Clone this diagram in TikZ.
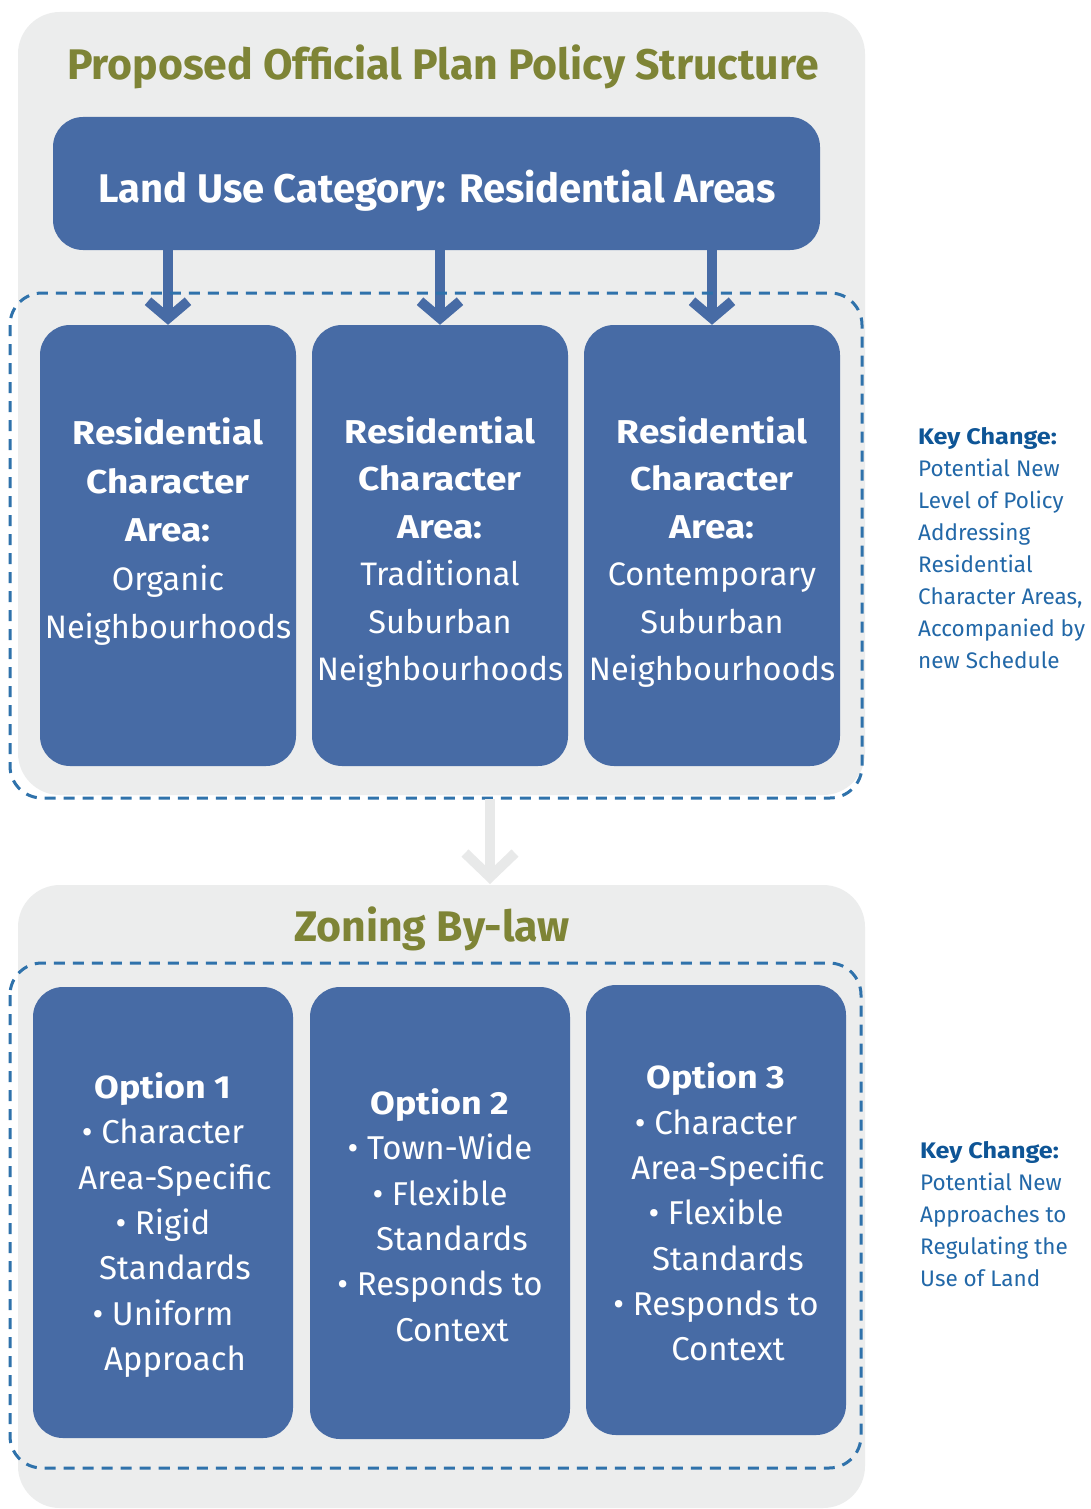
\documentclass[tikz,border=0pt]{standalone}
\usepackage{fontspec}
\setmainfont{Fira Sans}
\newfontfamily\boxbf{Fira Sans}[FakeStretch=1.12]
\usetikzlibrary{arrows.meta}
\definecolor{boxblue}{HTML}{476BA5}
\definecolor{panelgrey}{HTML}{ECEDED}
\definecolor{olive}{HTML}{7E8436}
\definecolor{dashblue}{HTML}{2F72AB}
\definecolor{keytext}{HTML}{2268A8}
\definecolor{keybold}{HTML}{0E5596}
\definecolor{greyarrow}{HTML}{E8E9E9}
\newcommand\fsz[2]{\fontsize{#1}{#2}\selectfont}
\newcommand\hb[1]{{\boxbf\bfseries\fontsize{33}{40}\selectfont #1}}
\newcommand\ob[1]{{\boxbf\bfseries\fontsize{32}{40}\selectfont #1}}
\begin{document}
\begin{tikzpicture}[x=1pt,y=-1pt,
  panel/.style={fill=panelgrey, draw=none, rounded corners=42pt},
  dashbox/.style={draw=dashblue, line width=3pt, dash pattern=on 11pt off 8pt, rounded corners=32pt},
  bluebox/.style={fill=boxblue, draw=none, rounded corners=30pt, inner sep=0pt},
  boxtext/.style={text=white, align=center, inner sep=0pt},
  title/.style={text=olive, font=\fsz{42.8}{50}\bfseries, anchor=base},
  keynote/.style={text=keytext, align=left, anchor=west, inner sep=0pt, font=\fsz{22.5}{32}},
  bluearrow/.style={draw=boxblue, line width=10pt, -{Straight Barb[length=17pt,width=40pt,line width=10pt]}},
  greyarr/.style={draw=greyarrow, line width=10pt, -{Straight Barb[length=24pt,width=50pt,line width=10pt]}}
]
\useasboundingbox (0,0) rectangle (1090,1509);
\fill[white] (0,0) rectangle (1090,1509);

% panels
\path[panel] (18,12) rectangle (865,795);
\path[panel] (18,885) rectangle (865,1508);

% titles
\node[title] (t1) at (443,80) {Proposed Official Plan Policy Structure};
\node[title] (t2) at (432,941) {Zoning By-law};

% land use box
\node[bluebox, minimum width=767pt, minimum height=133pt] (lu) at (436.5,183.5) {};
\node[text=white, font=\fsz{40}{46}\bfseries, anchor=base] (lut) at (437,202) {Land Use Category: Residential Areas};

% residential character boxes
\node[bluebox, minimum width=256pt, minimum height=441pt] (r1) at (168,545.5) {};
\node[bluebox, minimum width=256pt, minimum height=441pt] (r2) at (440,545.5) {};
\node[bluebox, minimum width=256pt, minimum height=441pt] (r3) at (712,545.5) {};

\node[boxtext, font=\fsz{32.5}{48.5}] (r1t) at (168,532) {\hb{Residential}\\\hb{Character}\\\hb{Area:}\\Organic\\Neighbourhoods};
\node[boxtext, font=\fsz{32.5}{47.4}] (r2t) at (440,552) {\hb{Residential}\\\hb{Character}\\\hb{Area:}\\Traditional\\Suburban\\Neighbourhoods};
\node[boxtext, font=\fsz{32.5}{47.4}] (r3t) at (712,552) {\hb{Residential}\\\hb{Character}\\\hb{Area:}\\Contemporary\\Suburban\\Neighbourhoods};

% arrows from land use
\draw[bluearrow] (lu.south -| r1.north) -- (r1.north);
\draw[bluearrow] (lu.south -| r2.north) -- (r2.north);
\draw[bluearrow] (lu.south -| r3.north) -- (r3.north);

% dashed box 1
\draw[dashbox] (10,293) rectangle (862,798);

% grey arrow between panels
\coordinate (ga1) at (490,799);
\coordinate (ga2) at (490,884);
\draw[greyarr] (ga1) -- (ga2);

% option boxes
\node[bluebox, minimum width=260pt, minimum height=451pt] (o1) at (163,1212.5) {};
\node[bluebox, minimum width=260pt, minimum height=452pt] (o2) at (440,1213) {};
\node[bluebox, minimum width=260pt, minimum height=450pt] (o3) at (716,1210) {};

\node[boxtext, font=\fsz{33}{45.3}] (o1t) at (163,1225) {\ob{Option 1}\\• Character\\\hspace*{24pt}Area-Specific\\• Rigid\\\hspace*{24pt}Standards\\• Uniform\\\hspace*{24pt}Approach};
\node[boxtext, font=\fsz{33}{45.3}] (o2t) at (440,1215) {\ob{Option 2}\\• Town-Wide\\• Flexible\\\hspace*{24pt}Standards\\• Responds to\\\hspace*{24pt}Context};
\node[boxtext, font=\fsz{33}{45.3}] (o3t) at (716,1212) {\ob{Option 3}\\• Character\\\hspace*{24pt}Area-Specific\\• Flexible\\\hspace*{24pt}Standards\\• Responds to\\\hspace*{24pt}Context};

% dashed box 2
\draw[dashbox] (10,963) rectangle (861,1468);

% key change notes
\node[keynote] (k1) at (918,548) {\textcolor{keybold}{\boxbf\bfseries Key Change:}\\Potential New\\Level of Policy\\Addressing\\Residential\\Character Areas,\\Accompanied by\\new Schedule};
\node[keynote] (k2) at (920,1214) {\textcolor{keybold}{\boxbf\bfseries Key Change:}\\Potential New\\Approaches to\\Regulating the\\Use of Land};
\end{tikzpicture}
\end{document}
